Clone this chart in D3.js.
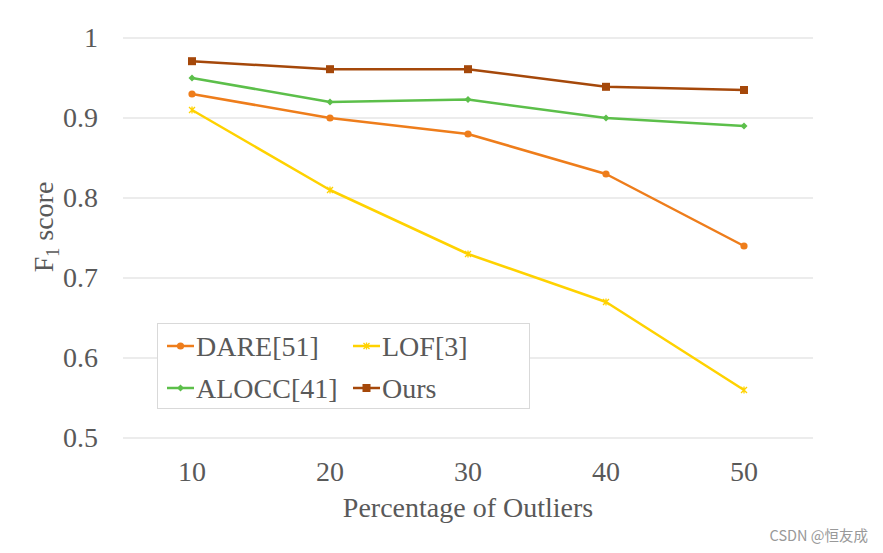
<!DOCTYPE html>
<html><head><meta charset="utf-8">
<script src="https://cdn.jsdelivr.net/npm/d3@7"></script>
<style>body{margin:0;background:#fff}</style>
</head><body>
<svg id="c" width="883" height="553"></svg>
<script>
const categories = ["10","20","30","40","50"];
const yTicks = [0.5,0.6,0.7,0.8,0.9,1];
const dare = [0.93,0.90,0.88,0.83,0.74];
const lof = [0.91,0.81,0.73,0.67,0.56];
const alocc = [0.95,0.92,0.923,0.90,0.89];
const ours = [0.971,0.961,0.961,0.939,0.935];
const seriesNames = ["DARE[51]","LOF[3]","ALOCC[41]","Ours"];
const seriesColors = ["#ee7d1b","#ffd200","#5cbf4a","#a5480a"];
const seriesMarkers = ["circle","star","diamond","square"];
const seriesData = [dare, lof, alocc, ours];

const svg = d3.select("#c");
const font = "'Liberation Serif','Times New Roman',serif";
const txt = "#595959";
const x = d3.scalePoint().domain(categories).range([123,813]).padding(0.5);
const y = d3.scaleLinear().domain([0.5,1]).range([438,38]);

svg.append("g").selectAll("line").data(yTicks).join("line")
  .attr("x1",123).attr("x2",813).attr("y1",d=>y(d)).attr("y2",d=>y(d))
  .attr("stroke","#d9d9d9").attr("stroke-width",1);

svg.append("g").selectAll("text").data(yTicks).join("text")
  .attr("x",98).attr("y",d=>y(d)+9).attr("text-anchor","end")
  .attr("font-family",font).attr("font-size",28).attr("fill",txt)
  .text(d=>d===1?"1":d.toFixed(1));

svg.append("g").selectAll("text").data(categories).join("text")
  .attr("x",d=>x(d)).attr("y",481).attr("text-anchor","middle")
  .attr("font-family",font).attr("font-size",28).attr("fill",txt)
  .text(d=>d);

svg.append("text").attr("x",468).attr("y",517).attr("text-anchor","middle")
  .attr("font-family",font).attr("font-size",28).attr("fill",txt)
  .text("Percentage of Outliers");
const yl = svg.append("text").attr("transform","translate(53,227) rotate(-90)")
  .attr("text-anchor","middle").attr("font-family",font).attr("font-size",28).attr("fill",txt);
yl.append("tspan").text("F");
yl.append("tspan").attr("font-size",18).attr("dy",6).text("1");
yl.append("tspan").attr("dy",-6).text(" score");

function marker(g, type, color, cx, cy){
  if(type==="circle") g.append("circle").attr("cx",cx).attr("cy",cy).attr("r",3.6).attr("fill",color);
  else if(type==="square") g.append("rect").attr("x",cx-4).attr("y",cy-4).attr("width",8).attr("height",8).attr("fill",color);
  else if(type==="diamond") g.append("path").attr("d",`M${cx},${cy-3.5}L${cx+3.5},${cy}L${cx},${cy+3.5}L${cx-3.5},${cy}Z`).attr("fill",color);
  else if(type==="star") g.append("path").attr("d",`M${cx-3},${cy-3}L${cx+3},${cy+3}M${cx-3},${cy+3}L${cx+3},${cy-3}M${cx},${cy-3.5}L${cx},${cy+3.5}`).attr("stroke",color).attr("stroke-width",1.3).attr("fill","none");
}

const line = d3.line().x((d,i)=>x(categories[i])).y(d=>y(d));
seriesData.forEach((data,k)=>{
  const g = svg.append("g");
  g.append("path").datum(data).attr("d",line).attr("fill","none")
    .attr("stroke",seriesColors[k]).attr("stroke-width",2.5).attr("stroke-linejoin","round");
  data.forEach((v,i)=>marker(g, seriesMarkers[k], seriesColors[k], x(categories[i]), y(v)));
});

const lg = svg.append("g");
lg.append("rect").attr("x",157.5).attr("y",323.5).attr("width",372).attr("height",85)
  .attr("fill","#fff").attr("stroke","#d9d9d9").attr("stroke-width",1);
const pos = [[167,346],[353,346],[167,388],[353,388]];
seriesNames.forEach((n,k)=>{
  const [lx,ly] = pos[k];
  lg.append("line").attr("x1",lx).attr("x2",lx+27).attr("y1",ly).attr("y2",ly)
    .attr("stroke",seriesColors[k]).attr("stroke-width",2.5);
  marker(lg, seriesMarkers[k], seriesColors[k], lx+13.5, ly);
  lg.append("text").attr("x",lx+29).attr("y",ly+10).attr("font-family",font)
    .attr("font-size",28).attr("fill",txt).text(n);
});

svg.append("text").attr("x",868).attr("y",541).attr("text-anchor","end")
  .attr("font-family","'Noto Sans CJK SC','Noto Sans',sans-serif").attr("font-size",14.5)
  .attr("fill","#999").text("CSDN @恒友成");
</script>
</body></html>
